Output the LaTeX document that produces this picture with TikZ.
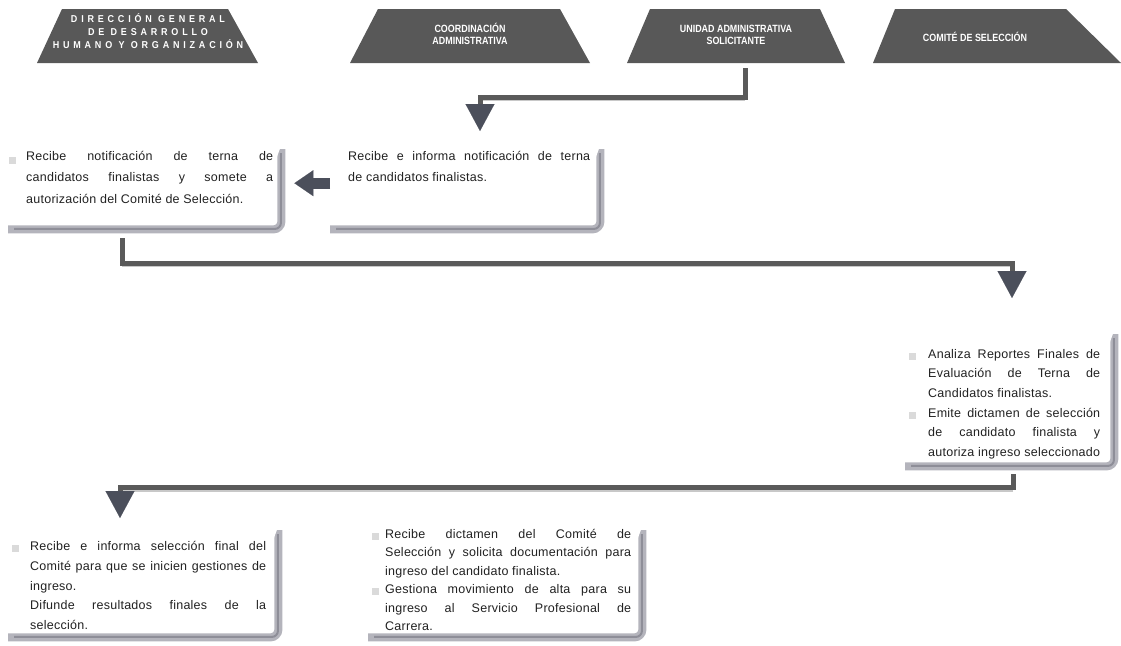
\documentclass[tikz,border=0pt]{standalone}
\usepackage{fontspec}
\setmainfont{Liberation Sans}
\newfontfamily\bodyfont[LetterSpace=2]{Liberation Sans}
\newfontfamily\headfont[FakeStretch=0.85]{Liberation Sans}
\newfontfamily\headwide[FakeStretch=0.9,LetterSpace=38]{Liberation Sans}
\usetikzlibrary{arrows.meta,calc}

\definecolor{hdgray}{HTML}{585858}
\definecolor{lineg}{HTML}{5A5A5A}
\definecolor{lineshade}{HTML}{C8C8C8}
\definecolor{headg}{HTML}{4B4F5B}
\definecolor{shadeout}{HTML}{B4B4BC}
\definecolor{shadein}{HTML}{8E8E98}
\definecolor{bulletg}{HTML}{DADADA}
\definecolor{bodytext}{HTML}{222222}

\tikzset{
  header/.style={text=white, align=center, inner sep=0pt,
    font=\headfont\bfseries\fontsize{10.5}{12.5}\selectfont},
  frame/.style={inner sep=0pt, anchor=north west},
  txt/.style={inner sep=0pt, anchor=north west, align=justify, text=bodytext},
  flow/.style={draw=lineg, line width=5pt,
    -{Triangle[width=29pt,length=27pt,line width=0.1pt,color=headg]}},
  flowshade/.style={draw=lineshade, line width=1.5pt},
  block/.style={draw=headg, line width=11pt,
    -{Triangle[width=26pt,length=19pt,line width=0.1pt,color=headg]}},
  bullet/.style={fill=bulletg},
}

% right and bottom shadow band of a step box
\newcommand\boxshadow[1]{%
  \draw[shadeout, line width=8pt, rounded corners=8pt]
    ([yshift=4pt]#1.south west) -- ([xshift=-4pt,yshift=4pt]#1.south east)
    -- ([xshift=-4pt,yshift=-4pt]#1.north east);
  \draw[shadein, line width=2pt, rounded corners=6pt]
    ([xshift=6pt,yshift=4.5pt]#1.south west) -- ([xshift=-4.5pt,yshift=4.5pt]#1.south east)
    -- ([xshift=-4.5pt,yshift=-8pt]#1.north east);
  \fill[white] ([xshift=-8.5pt]#1.north east) -- ([xshift=-8.5pt,yshift=-12pt]#1.north east)
    -- ([xshift=-4pt]#1.north east) -- cycle;
}

\begin{document}
\begin{tikzpicture}[x=1pt,y=-1pt]
\useasboundingbox[fill=white] (0,0) rectangle (1121,645);

% ---- column headers ----
\fill[hdgray] (37,63) -- (62,9) -- (228,9) -- (258,63) -- cycle;
\node[header, font=\headwide\bfseries\fontsize{10}{13}\selectfont] (h1) at (148,31)
  {DIRECCIÓN GENERAL\\DE DESARROLLO\\HUMANO Y ORGANIZACIÓN};
\fill[hdgray] (350,63) -- (378,9) -- (560,9) -- (590,63) -- cycle;
\node[header] (h2) at (470,34) {COORDINACIÓN\\ADMINISTRATIVA};
\fill[hdgray] (627,63) -- (650,9) -- (820,9) -- (845,63) -- cycle;
\node[header] (h3) at (736,35) {UNIDAD ADMINISTRATIVA\\SOLICITANTE};
\fill[hdgray] (873,63) -- (895,9) -- (1066,9) -- (1121,63) -- cycle;
\node[header] (h4) at (975,37) {COMITÉ DE SELECCIÓN};

% ---- step boxes ----
\node[frame, minimum width=277pt, minimum height=88pt] (b1) at (8,145) {};
\node[frame, minimum width=274pt, minimum height=88pt] (b2) at (330,145) {};
\node[frame, minimum width=213pt, minimum height=140pt] (b3) at (905,330) {};
\node[frame, minimum width=274pt, minimum height=115pt] (b4) at (8,526) {};
\node[frame, minimum width=278pt, minimum height=115pt] (b5) at (368,526) {};
\foreach \b in {b1,b2,b3,b4,b5} {\boxshadow{\b}}

% bullets
\fill[bullet] (9,157) rectangle (16,164);
\fill[bullet] (909,353) rectangle (916,360);
\fill[bullet] (909,412) rectangle (916,419);
\fill[bullet] (12,545) rectangle (19,552);
\fill[bullet] (372,533) rectangle (379,540);
\fill[bullet] (372,588) rectangle (379,595);

% texts
\node[txt, text width=247pt, font=\bodyfont\fontsize{12.5}{21.5}\selectfont] (t1) at (26,151)
  {Recibe notificación de terna de\linebreak
   candidatos finalistas y somete a\linebreak
   autorización del Comité de Selección.};
\node[txt, text width=242pt, font=\bodyfont\fontsize{12.5}{21.5}\selectfont] (t2) at (348,151)
  {Recibe e informa notificación de terna\linebreak
   de candidatos finalistas.};
\node[txt, text width=172pt, font=\bodyfont\fontsize{12.5}{19.6}\selectfont] (t3) at (928,349)
  {Analiza Reportes Finales de\linebreak
   Evaluación de Terna de\linebreak
   Candidatos finalistas.\par
   Emite dictamen de selección\linebreak
   de candidato finalista y\linebreak
   autoriza ingreso seleccionado};
\node[txt, text width=236pt, font=\bodyfont\fontsize{12.5}{19.8}\selectfont] (t4) at (30,541)
  {Recibe e informa selección final del\linebreak
   Comité para que se inicien gestiones de\linebreak
   ingreso.\par
   Difunde resultados finales de la\linebreak
   selección.};
\node[txt, text width=246pt, font=\bodyfont\fontsize{12.5}{18.4}\selectfont] (t5) at (385,529)
  {Recibe dictamen del Comité de\linebreak
   Selección y solicita documentación para\linebreak
   ingreso del candidato finalista.\par
   Gestiona movimiento de alta para su\linebreak
   ingreso al Servicio Profesional de\linebreak
   Carrera.};

% ---- connectors ----
\coordinate (a1s) at (745,68);
\coordinate (a1e) at (480,131);
\coordinate (a3s) at (122,238);
\coordinate (a3e) at (1012,298);
\coordinate (a4s) at (1013,474);
\coordinate (a4e) at (120,518);

\draw[flowshade] (a1s |- 0,100) -- (a1e |- 0,100);
\draw[flowshade] (a3s |- 0,266) -- (a3e |- 0,266);
\draw[flowshade] (a4s |- 0,491) -- (a4e |- 0,491);

\draw[flow] (a1s) |- ($(a1e)+(0,-34)$) -- (a1e);
\draw[flow] (a3s) |- ($(a3e)+(0,-35)$) -- (a3e);
\draw[flow] (a4s) |- ($(a4e)+(0,-31)$) -- (a4e);
\draw[block, shorten >=9pt] ([yshift=6pt]b2.west) -- ([yshift=6pt]b1.east);

\end{tikzpicture}
\end{document}
